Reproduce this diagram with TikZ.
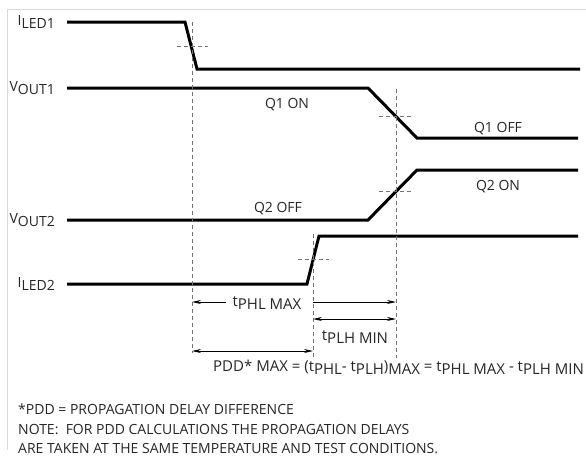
\documentclass[tikz,border=0pt]{standalone}
\usepackage{fontspec}
\setmainfont{Open Sans}
\usetikzlibrary{arrows.meta}
\newcommand\sbx[1]{\raisebox{-0.45ex}{#1}}
\begin{document}
\begin{tikzpicture}[x=1pt,y=-1pt,
  sig/.style={line width=3pt, line join=miter},
  guide/.style={black!55, dash pattern=on 4pt off 3pt, line width=0.8pt},
  dim/.style={line width=0.8pt, -{Stealth[length=9pt,width=4pt]}},
  dimb/.style={line width=0.8pt, {Stealth[length=9pt,width=4pt]}-{Stealth[length=9pt,width=4pt]}},
  lbl/.style={font=\fontsize{14}{16}\selectfont, inner sep=0pt, text=black!85, text height=10pt, text depth=0pt},
  biglbl/.style={lbl, font=\fontsize{15}{17}\selectfont, text height=10.7pt},
  frame/.style={black!15, line width=1pt}]
\useasboundingbox (0,0) rectangle (586,455);
\coordinate (f1) at (7,450);
\coordinate (f2) at (7,9);
\coordinate (f3) at (586,9);
\draw[frame] (f1) -- (f2) -- (f3);

% signal labels
\node[lbl, anchor=east] (lI1) at (55,20) {I\sbx{LED1}};
\node[lbl, anchor=east] (lV1) at (55,86) {V\sbx{OUT1}};
\node[lbl, anchor=east] (lV2) at (55,218) {V\sbx{OUT2}};
\node[lbl, anchor=east] (lI2) at (55,282) {I\sbx{LED2}};

% waveforms
\coordinate (a1) at (67,22);  \coordinate (a2) at (185,22);
\coordinate (a3) at (197,69); \coordinate (a4) at (580,69);
\draw[sig] (a1) -- (a2) -- (a3) -- (a4);
\coordinate (b1) at (67,88);  \coordinate (b2) at (368,88);
\coordinate (b3) at (417,138); \coordinate (b4) at (578,138);
\draw[sig] (b1) -- (b2) -- (b3) -- (b4);
\coordinate (c1) at (67,220);  \coordinate (c2) at (368,220);
\coordinate (c3) at (417,170); \coordinate (c4) at (578,170);
\draw[sig] (c1) -- (c2) -- (c3) -- (c4);
\coordinate (e1) at (67,284);  \coordinate (e2) at (307,284);
\coordinate (e3) at (319,236); \coordinate (e4) at (578,236);
\draw[sig] (e1) -- (e2) -- (e3) -- (e4);

% state labels
\node[lbl] (q1on) at (287,103) {Q1 ON};
\node[lbl] (q1off) at (498,127.5) {Q1 OFF};
\node[lbl] (q2on) at (498,185.5) {Q2 ON};
\node[lbl] (q2off) at (278,207) {Q2 OFF};

% guide lines
\coordinate (g1t) at (192,22);  \coordinate (g1b) at (192,353);
\coordinate (g2t) at (313,234); \coordinate (g2b) at (313,357);
\coordinate (g3t) at (396,89);  \coordinate (g3b) at (396,358);
\draw[guide] (g1t) -- (g1b);
\draw[guide] (g2t) -- (g2b);
\draw[guide] (g3t) -- (g3b);
\coordinate (h1a) at (177,46);  \coordinate (h1b) at (208,46);
\coordinate (h2a) at (379,116); \coordinate (h2b) at (411,116);
\coordinate (h3a) at (379,191); \coordinate (h3b) at (411,191);
\coordinate (h4a) at (298,259); \coordinate (h4b) at (329,259);
\draw[guide] (h1a) -- (h1b);
\draw[guide] (h2a) -- (h2b);
\draw[guide] (h3a) -- (h3b);
\draw[guide] (h4a) -- (h4b);

% dimensions
\node[biglbl] (tphl) at (267,301) {t\sbx{PHL MAX}};
\coordinate (p1) at (192,302);
\coordinate (p2) at (313,302);
\coordinate (p3) at (396,302);
\draw[dim] (tphl.west) ++(-6,1) -- (p1);
\draw[dim] (p2) -- (p3);
\coordinate (r1) at (313,319);
\coordinate (r2) at (396,319);
\draw[dimb] (r1) -- (r2);
\node[biglbl] (tplh) at (355,335) {t\sbx{PLH MIN}};
\coordinate (s1) at (192,351);
\coordinate (s2) at (313,351);
\draw[dimb] (s1) -- (s2);
\node[biglbl, anchor=west] (pdd) at (213,366) {PDD* MAX = (t\sbx{PHL}- t\sbx{PLH})\sbx{MAX} = t\sbx{PHL MAX} - t\sbx{PLH MIN}};

% notes
\node[lbl, anchor=west] (n1) at (18,409) {*PDD = PROPAGATION DELAY DIFFERENCE};
\node[lbl, anchor=west] (n2) at (18,429) {NOTE:\ \ FOR PDD CALCULATIONS THE PROPAGATION DELAYS};
\node[lbl, anchor=west] (n3) at (18,448) {ARE TAKEN AT THE SAME TEMPERATURE AND TEST CONDITIONS.};
\end{tikzpicture}
\end{document}
